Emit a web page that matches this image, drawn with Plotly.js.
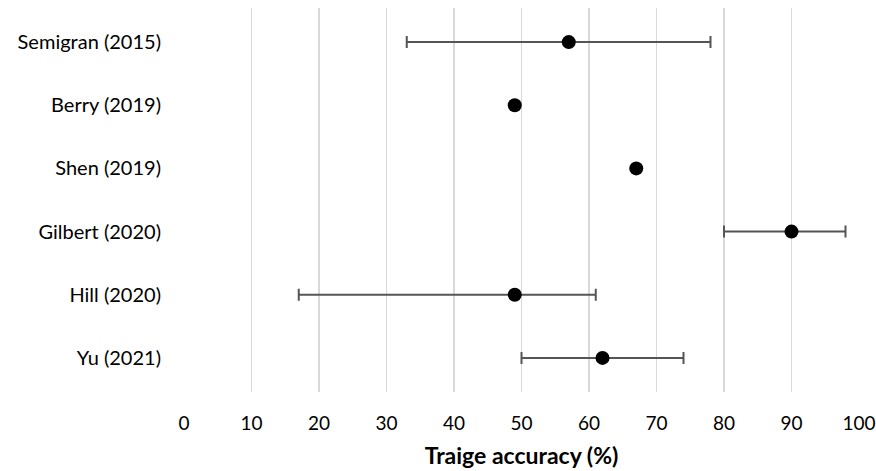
<!DOCTYPE html>
<html>
<head>
<meta charset="utf-8">
<script src="https://cdn.plot.ly/plotly-3.0.1.min.js"></script>
<style>html,body{margin:0;padding:0;background:#fff;}#chart{width:876px;height:471px;}</style>
</head>
<body>
<div id="chart"></div>
<script>
const studies = ["Semigran (2015)", "Berry (2019)", "Shen (2019)", "Gilbert (2020)", "Hill (2020)", "Yu (2021)"];
const accuracy = [57, 49, 67, 90, 49, 62];
const lowerCI = [33, null, null, 80, 17, 50];
const upperCI = [78, null, null, 98, 61, 74];
const xTicks = [0, 10, 20, 30, 40, 50, 60, 70, 80, 90, 100];

const errPlus = accuracy.map((v, i) => upperCI[i] == null ? 0 : upperCI[i] - v);
const errMinus = accuracy.map((v, i) => lowerCI[i] == null ? 0 : v - lowerCI[i]);

const trace = {
  type: 'scatter',
  mode: 'markers',
  x: accuracy,
  y: studies,
  marker: {color: '#000000', size: 14},
  error_x: {
    type: 'data',
    symmetric: false,
    array: errPlus,
    arrayminus: errMinus,
    color: '#555555',
    thickness: 2,
    width: 6
  },
  hoverinfo: 'x+y'
};

const font = "Lato, 'Open Sans', sans-serif";
const layout = {
  width: 876, height: 471,
  margin: {l: 184, r: 17, t: 8, b: 79},
  paper_bgcolor: '#ffffff', plot_bgcolor: '#ffffff',
  showlegend: false,
  font: {family: font, color: '#000000', size: 20},
  xaxis: {
    range: [0, 100],
    tickvals: xTicks,
    ticktext: xTicks.map(String),
    ticklabeloverflow: 'allow',
    showgrid: true, gridcolor: '#d9d9d9', gridwidth: 1.5,
    zeroline: false, showline: false,
    ticks: 'outside', ticklen: 14, tickcolor: 'rgba(0,0,0,0)',
    tickfont: {family: font, size: 19, color: '#000000'},
    title: {text: 'Traige accuracy (%)', font: {family: font, size: 23, color: '#000000', weight: 'bold'}, standoff: 15}
  },
  yaxis: {
    type: 'category',
    categoryorder: 'array', categoryarray: studies,
    range: [5.54, -0.54],
    showgrid: false, zeroline: false, showline: false,
    ticks: 'outside', ticklen: 18, tickcolor: 'rgba(0,0,0,0)',
    tickfont: {family: font, size: 20, color: '#000000'}
  }
};

Plotly.newPlot('chart', [trace], layout, {displayModeBar: false, staticPlot: true});
</script>
</body>
</html>
